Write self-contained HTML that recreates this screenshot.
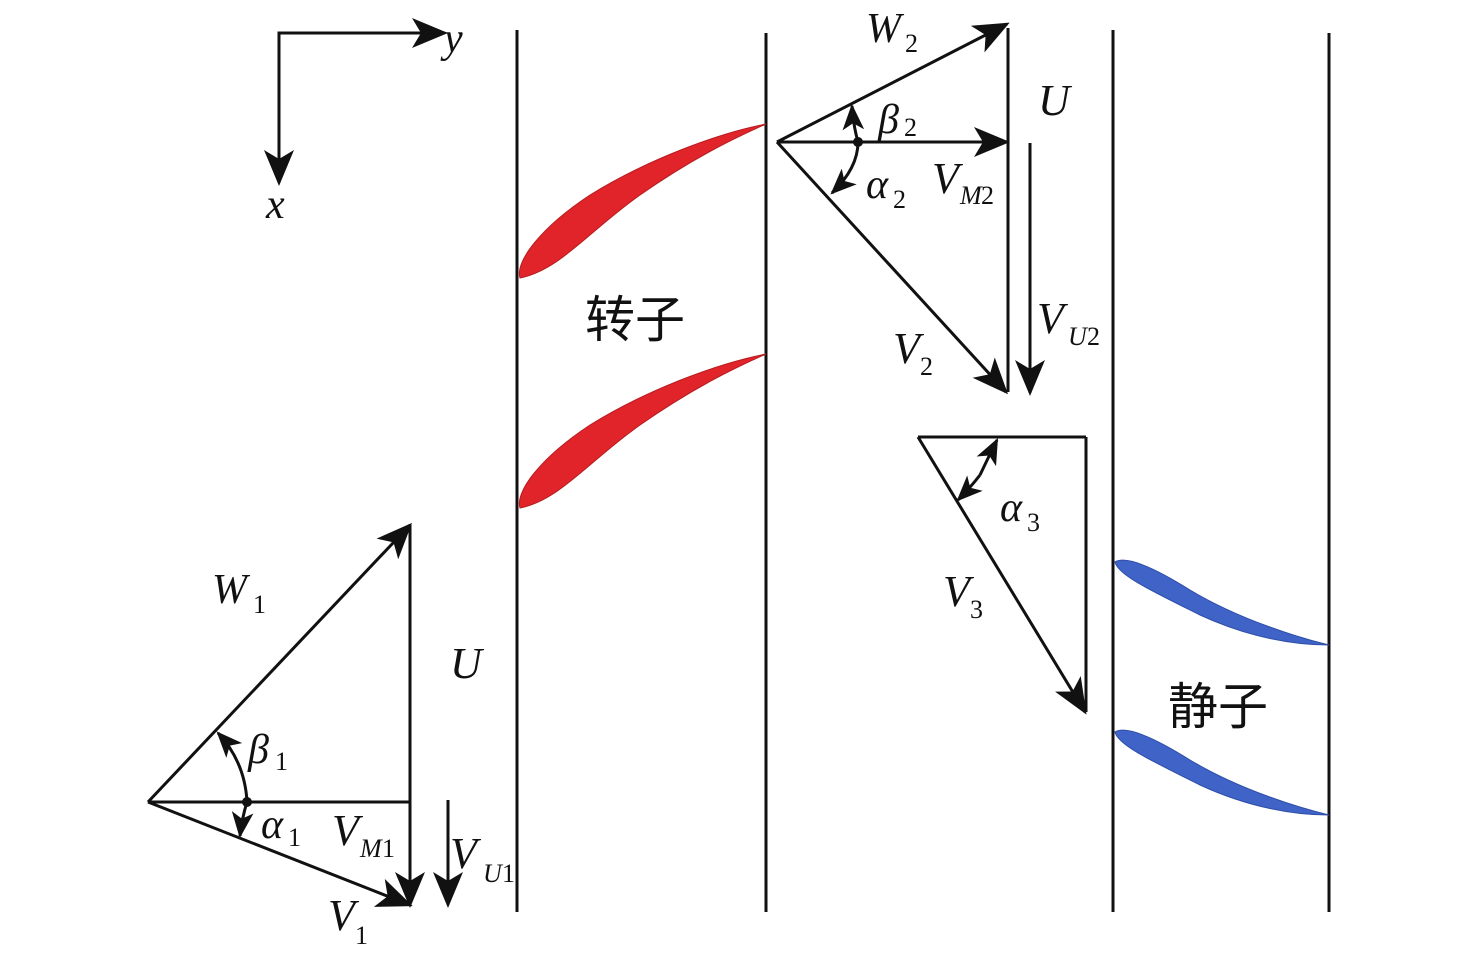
<!DOCTYPE html>
<html><head><meta charset="utf-8"><style>
html,body{margin:0;padding:0;background:#fff}
svg{display:block}
text{font-family:"Liberation Serif",serif;font-style:italic;fill:#111}
.s{font-size:26px}
.n{font-size:26px;font-style:normal}
.c{font-family:"Liberation Sans","Noto Sans CJK SC",sans-serif;font-style:normal;font-size:50px}
</style></head><body>
<svg width="1476" height="961" viewBox="0 0 1476 961" xmlns="http://www.w3.org/2000/svg">
<defs>
<marker id="b" viewBox="0 0 12 10" refX="11" refY="5" markerWidth="36" markerHeight="30" markerUnits="userSpaceOnUse" orient="auto">
<path d="M0,0 L12,5 L0,10 L3,5 Z" fill="#111"/></marker>
<marker id="m" viewBox="0 0 12 10" refX="11" refY="5" markerWidth="26" markerHeight="22" markerUnits="userSpaceOnUse" orient="auto">
<path d="M0,0 L12,5 L0,10 L3,5 Z" fill="#111"/></marker>
</defs>
<g stroke="#111" stroke-width="3" fill="none">
<polyline points="445,33 279,33 279,183"/>
<line x1="279" y1="33" x2="445" y2="33" marker-end="url(#b)"/>
<line x1="279" y1="33" x2="279" y2="183" marker-end="url(#b)"/>
<line x1="517" y1="30" x2="517" y2="912"/>
<line x1="766" y1="33" x2="766" y2="912"/>
<line x1="1113" y1="30" x2="1113" y2="912"/>
<line x1="1329" y1="33" x2="1329" y2="912"/>
<line x1="777" y1="142" x2="1007" y2="24" marker-end="url(#b)"/>
<line x1="777" y1="142" x2="1007" y2="142" marker-end="url(#b)"/>
<line x1="1008" y1="28" x2="1008" y2="392"/>
<line x1="777" y1="142" x2="1006" y2="392" marker-end="url(#b)"/>
<line x1="1030" y1="143" x2="1030" y2="393" marker-end="url(#b)"/>
<path d="M858,142 Q853,124 852,106" marker-end="url(#m)"/>
<path d="M858,142 Q858,168 832,193" marker-end="url(#m)"/>
<line x1="918" y1="437" x2="1086" y2="437"/>
<line x1="1086" y1="437" x2="1086" y2="712"/>
<line x1="918" y1="437" x2="1085" y2="712" marker-end="url(#b)"/>
<path d="M980,475 Q988,458 997,440" marker-end="url(#m)"/>
<path d="M980,475 Q970,488 958,500" marker-end="url(#m)"/>
<line x1="148" y1="802" x2="410" y2="525" marker-end="url(#b)"/>
<line x1="148" y1="802" x2="410" y2="802"/>
<line x1="410" y1="525" x2="410" y2="905" marker-end="url(#b)"/>
<line x1="148" y1="802" x2="410" y2="905" marker-end="url(#b)"/>
<line x1="448" y1="800" x2="448" y2="905" marker-end="url(#b)"/>
<path d="M247,802 Q245,762 218,733" marker-end="url(#m)"/>
<path d="M247,802 Q242,818 240,836" marker-end="url(#m)"/>
</g>
<circle cx="858" cy="142" r="5" fill="#111"/>
<circle cx="247" cy="802" r="5" fill="#111"/>
<path d="M520,278 C515,262 540,228 590,195 C650,158 720,133 766,124 C730,140 690,160 640,195 C590,230 560,270 520,278 Z" fill="#e0242a" stroke="#b71c20" stroke-width="1"/>
<path d="M520,508 C515,492 540,458 590,425 C650,388 720,363 766,354 C730,370 690,390 640,425 C590,460 560,500 520,508 Z" fill="#e0242a" stroke="#b71c20" stroke-width="1"/>
<path d="M1115,562 C1125,556 1150,565 1190,590 C1240,620 1300,638 1329,645 C1295,645 1250,638 1200,615 C1150,590 1118,575 1115,562 Z" fill="#3f63c6" stroke="#2e4ea8" stroke-width="1"/>
<path d="M1115,732 C1125,726 1150,735 1190,760 C1240,790 1300,808 1329,815 C1295,815 1250,808 1200,785 C1150,760 1118,745 1115,732 Z" fill="#3f63c6" stroke="#2e4ea8" stroke-width="1"/>
<text x="444" y="52" font-size="42">y</text>
<text x="266" y="218" font-size="42">x</text>
<text x="866" y="42" font-size="42">W</text><text x="905" y="52" class="n">2</text>
<text x="1038" y="115" font-size="44">U</text>
<text x="878" y="133" font-size="42">β</text><text x="904" y="136" class="n">2</text>
<text x="866" y="198" font-size="42">α</text><text x="893" y="208" class="n">2</text>
<text x="932" y="193" font-size="44">V</text><text x="960" y="204" class="s">M</text><text x="981" y="204" class="n">2</text>
<text x="1037" y="333" font-size="44">V</text><text x="1068" y="345" class="s">U</text><text x="1087" y="345" class="n">2</text>
<text x="893" y="363" font-size="44">V</text><text x="920" y="375" class="n">2</text>
<text x="1000" y="521" font-size="42">α</text><text x="1027" y="531" class="n">3</text>
<text x="943" y="606" font-size="44">V</text><text x="970" y="618" class="n">3</text>
<text x="212" y="603" font-size="42">W</text><text x="253" y="613" class="n">1</text>
<text x="450" y="678" font-size="44">U</text>
<text x="248" y="763" font-size="42">β</text><text x="275" y="770" class="n">1</text>
<text x="261" y="838" font-size="42">α</text><text x="288" y="846" class="n">1</text>
<text x="332" y="845" font-size="44">V</text><text x="360" y="857" class="s">M</text><text x="382" y="857" class="n">1</text>
<text x="450" y="868" font-size="44">V</text><text x="483" y="882" class="s">U</text><text x="502" y="882" class="n">1</text>
<text x="328" y="930" font-size="44">V</text><text x="355" y="944" class="n">1</text>
<text x="585" y="337" class="c">转子</text>
<text x="1168" y="724" class="c">静子</text>
</svg>
</body></html>
